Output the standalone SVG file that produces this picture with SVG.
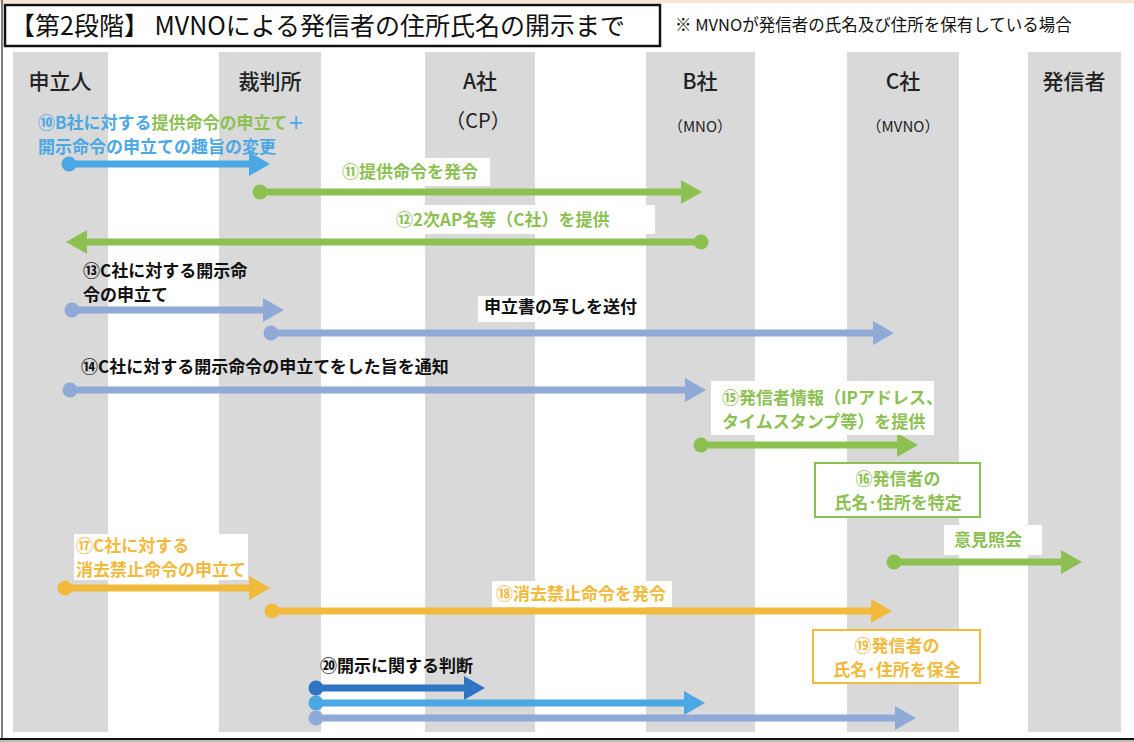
<svg xmlns="http://www.w3.org/2000/svg" width="1134" height="742" viewBox="0 0 1134 742">
<style>
  text { font-family: "Noto Sans CJK JP", "Noto Sans", sans-serif; }
  .lane { fill: #D9D9D9; }
  .hdr { font-size: 21px; font-weight: 500; fill: #222; text-anchor: middle; }
  .sub { font-size: 15px; fill: #222; text-anchor: middle; }
  .lbl { font-size: 17px; font-weight: 700; }
  .blk { fill: #111; }
  .blu { fill: #4BA8E5; }
  .grn { fill: #8CC152; }
  .org { fill: #F2BA3C; }
  .bg { fill: #FFFFFF; }
  .conn { fill: none; stroke-width: 7; }
  .c-blue { stroke: #4BA8E5; marker-start: url(#dot-blue); marker-end: url(#head-blue); }
  .c-green { stroke: #8CC152; marker-start: url(#dot-green); marker-end: url(#head-green); }
  .c-slate { stroke: #8FAAD6; marker-start: url(#dot-slate); marker-end: url(#head-slate); }
  .c-orange { stroke: #F2BA3C; marker-start: url(#dot-orange); marker-end: url(#head-orange); }
  .c-dark { stroke: #2F75C4; marker-start: url(#dot-dark); marker-end: url(#head-dark); }
</style>
<defs>
  <marker id="dot-blue" markerUnits="userSpaceOnUse" markerWidth="16" markerHeight="16" refX="8" refY="8" orient="auto"><circle cx="8" cy="8" r="7.5" fill="#4BA8E5"/></marker>
  <marker id="dot-green" markerUnits="userSpaceOnUse" markerWidth="16" markerHeight="16" refX="8" refY="8" orient="auto"><circle cx="8" cy="8" r="7.5" fill="#8CC152"/></marker>
  <marker id="dot-slate" markerUnits="userSpaceOnUse" markerWidth="16" markerHeight="16" refX="8" refY="8" orient="auto"><circle cx="8" cy="8" r="7.5" fill="#8FAAD6"/></marker>
  <marker id="dot-orange" markerUnits="userSpaceOnUse" markerWidth="16" markerHeight="16" refX="8" refY="8" orient="auto"><circle cx="8" cy="8" r="7.5" fill="#F2BA3C"/></marker>
  <marker id="dot-dark" markerUnits="userSpaceOnUse" markerWidth="16" markerHeight="16" refX="8" refY="8" orient="auto"><circle cx="8" cy="8" r="7.5" fill="#2F75C4"/></marker>
  <marker id="head-blue" markerUnits="userSpaceOnUse" markerWidth="21" markerHeight="24" refX="1" refY="12" orient="auto"><path d="M0,0 L21,12 L0,24 z" fill="#4BA8E5"/></marker>
  <marker id="head-green" markerUnits="userSpaceOnUse" markerWidth="21" markerHeight="24" refX="1" refY="12" orient="auto"><path d="M0,0 L21,12 L0,24 z" fill="#8CC152"/></marker>
  <marker id="head-slate" markerUnits="userSpaceOnUse" markerWidth="21" markerHeight="24" refX="1" refY="12" orient="auto"><path d="M0,0 L21,12 L0,24 z" fill="#8FAAD6"/></marker>
  <marker id="head-orange" markerUnits="userSpaceOnUse" markerWidth="21" markerHeight="24" refX="1" refY="12" orient="auto"><path d="M0,0 L21,12 L0,24 z" fill="#F2BA3C"/></marker>
  <marker id="head-dark" markerUnits="userSpaceOnUse" markerWidth="21" markerHeight="24" refX="1" refY="12" orient="auto"><path d="M0,0 L21,12 L0,24 z" fill="#2F75C4"/></marker>
</defs>

<rect x="0" y="0" width="1134" height="742" fill="#FFFFFF"/>
<rect x="0" y="0" width="1134" height="3" fill="#F9E4D4"/>
<line x1="2" y1="0" x2="2" y2="740" stroke="#555" stroke-width="1.5"/>

<g id="title">
  <rect x="5" y="5" width="655" height="41" fill="#FFFFFF" stroke="#111" stroke-width="2.5"/>
  <text x="10" y="35" font-size="25" fill="#111">【第2段階】 MVNOによる発信者の住所氏名の開示まで</text>
</g>
<g id="note">
  <text x="675" y="31" font-size="16.5" fill="#111">※  MVNOが発信者の氏名及び住所を保有している場合</text>
</g>

<g id="lane-moushitatenin">
  <rect class="lane" x="13" y="52" width="95" height="680"/>
  <text class="hdr" x="60" y="89">申立人</text>
</g>
<g id="lane-saibansho">
  <rect class="lane" x="219" y="52" width="102" height="680"/>
  <text class="hdr" x="270" y="89">裁判所</text>
</g>
<g id="lane-a">
  <rect class="lane" x="425" y="52" width="110" height="680"/>
  <text class="hdr" x="480" y="89">A社</text>
  <text x="478" y="128" font-size="20" fill="#222" text-anchor="middle">（CP）</text>
</g>
<g id="lane-b">
  <rect class="lane" x="646" y="52" width="109" height="680"/>
  <text class="hdr" x="700" y="89">B社</text>
  <text class="sub" x="700" y="132">（MNO）</text>
</g>
<g id="lane-c">
  <rect class="lane" x="847" y="52" width="112" height="680"/>
  <text class="hdr" x="903" y="89">C社</text>
  <text class="sub" x="903" y="132">（MVNO）</text>
</g>
<g id="lane-hasshinsha">
  <rect class="lane" x="1028" y="52" width="93" height="680"/>
  <text class="hdr" x="1074" y="89">発信者</text>
</g>

<g id="connectors">
  <line class="conn c-blue" x1="69" y1="164" x2="250" y2="164"/>
  <line class="conn c-green" x1="260" y1="192" x2="682" y2="192"/>
  <line class="conn c-green" x1="701" y1="242" x2="86" y2="242"/>
  <line class="conn c-slate" x1="72" y1="310" x2="264" y2="310"/>
  <line class="conn c-slate" x1="271" y1="333" x2="874" y2="333"/>
  <line class="conn c-slate" x1="70" y1="390" x2="686" y2="390"/>
  <line class="conn c-green" x1="701" y1="445" x2="898" y2="445"/>
  <line class="conn c-green" x1="894" y1="562" x2="1062" y2="562"/>
  <line class="conn c-orange" x1="65" y1="588" x2="250" y2="588"/>
  <line class="conn c-orange" x1="272" y1="611" x2="872" y2="611"/>
  <line class="conn c-dark" x1="316" y1="688" x2="465" y2="688"/>
  <line class="conn c-blue" x1="316" y1="703" x2="685" y2="703"/>
  <line class="conn c-slate" x1="316" y1="718" x2="896" y2="718"/>
</g>

<g id="label-10">
  <text class="lbl" x="38" y="129"><tspan class="blu">⑩B社に対する</tspan><tspan class="grn">提供命令の申立て</tspan><tspan class="blu">＋</tspan></text>
  <text class="lbl blu" x="38" y="153">開示命令の申立ての趣旨の変更</text>
</g>
<g id="label-11">
  <rect class="bg" x="334" y="158" width="156" height="28"/>
  <text class="lbl grn" x="342" y="178">⑪提供命令を発令</text>
</g>
<g id="label-12">
  <rect class="bg" x="390" y="205" width="265" height="29"/>
  <text class="lbl grn" x="396" y="226">⑫2次AP名等（C社）を提供</text>
</g>
<g id="label-13">
  <text class="lbl blk" x="83" y="277">⑬C社に対する開示命</text>
  <text class="lbl blk" x="83" y="301">令の申立て</text>
</g>
<g id="label-copy">
  <rect class="bg" x="478" y="296" width="162" height="26"/>
  <text class="lbl blk" x="484" y="313" font-size="16">申立書の写しを送付</text>
</g>
<g id="label-14">
  <text class="lbl blk" x="81" y="373">⑭C社に対する開示命令の申立てをした旨を通知</text>
</g>
<g id="label-15">
  <rect class="bg" x="711" y="381" width="223" height="54"/>
  <text class="lbl grn" x="722" y="404">⑮発信者情報（IPアドレス、</text>
  <text class="lbl grn" x="722" y="428">タイムスタンプ等）を提供</text>
</g>
<g id="box-16">
  <rect x="815" y="463" width="165" height="54" fill="#FFFFFF" stroke="#8CC152" stroke-width="2"/>
  <text class="lbl grn" x="898" y="485" text-anchor="middle">⑯発信者の</text>
  <text class="lbl grn" x="898" y="509" text-anchor="middle">氏名･住所を特定</text>
</g>
<g id="label-iken">
  <rect class="bg" x="944" y="525" width="98" height="30"/>
  <text class="lbl grn" x="954" y="546">意見照会</text>
</g>
<g id="label-17">
  <rect class="bg" x="74" y="534" width="174" height="46"/>
  <text class="lbl org" x="76" y="552">⑰C社に対する</text>
  <text class="lbl org" x="76" y="576">消去禁止命令の申立て</text>
</g>
<g id="label-18">
  <rect class="bg" x="492" y="581" width="180" height="26"/>
  <text class="lbl org" x="496" y="600">⑱消去禁止命令を発令</text>
</g>
<g id="box-19">
  <rect x="813" y="630" width="167" height="53" fill="#FFFFFF" stroke="#F2BA3C" stroke-width="2"/>
  <text class="lbl org" x="897" y="652" text-anchor="middle">⑲発信者の</text>
  <text class="lbl org" x="897" y="676" text-anchor="middle">氏名･住所を保全</text>
</g>
<g id="label-20">
  <text class="lbl blk" x="320" y="672">⑳開示に関する判断</text>
</g>

<rect x="0" y="738" width="1134" height="2" fill="#111"/>
<rect x="0" y="740" width="1134" height="2" fill="#BBB"/>
</svg>
